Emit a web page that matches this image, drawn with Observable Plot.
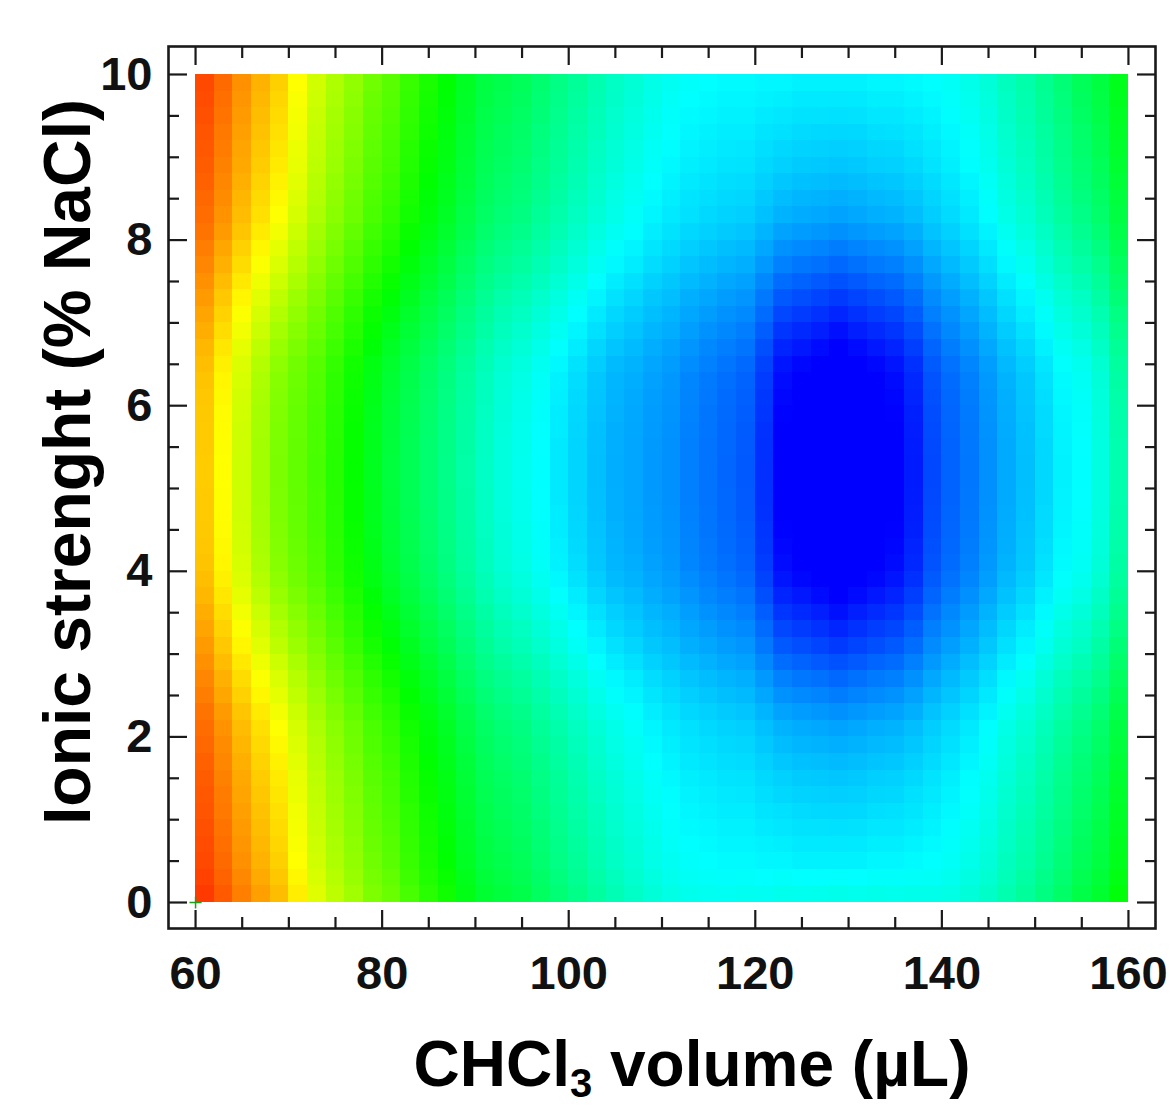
<!DOCTYPE html>
<html><head><meta charset="utf-8">
<script src="https://cdn.jsdelivr.net/npm/d3@7"></script>
<script src="https://cdn.jsdelivr.net/npm/@observablehq/plot@0.6"></script>
<style>html,body{margin:0;padding:0;background:#fff;} svg{display:block}</style>
</head><body>
<div id="chart"></div>
<script>
// Cell centres of the 50 x 50 response grid
const volume = [61,63,65,67,69,71,73,75,77,79,81,83,85,87,89,91,93,95,97,99,101,103,105,107,109,111,113,115,117,119,121,123,125,127,129,131,133,135,137,139,141,143,145,147,149,151,153,155,157,159];
const ionic = [0.1,0.3,0.5,0.7,0.9,1.1,1.3,1.5,1.7,1.9,2.1,2.3,2.5,2.7,2.9,3.1,3.3,3.5,3.7,3.9,4.1,4.3,4.5,4.7,4.9,5.1,5.3,5.5,5.7,5.9,6.1,6.3,6.5,6.7,6.9,7.1,7.3,7.5,7.7,7.9,8.1,8.3,8.5,8.7,8.9,9.1,9.3,9.5,9.7,9.9];
// Colour level (hue, 0 = red ... 240 = blue) read along the middle row (≈5.2 % NaCl), per volume column
const midRowLevel = [48,60,72,82,91,97,103,111,119,127,134,140,146,152,159,166,172,176,180,185,190,195,199,201,204,206,210,213,216,219,229,241,244.5,248,252,248,244.5,241.2,234,223,217,212,206,200,195,189,183,180,173,161];
// Colour level read along the top row (9.9 % NaCl), per volume column
const topRowLevel = [17,25,34,42,49,60,71,79,86,94,99,107,114,120,128,135,138,141,146,151,156,161,166,170,174,177,179,180,181,181,182,182,183,183,183,183,182,182,181,180,178,175,171,165,160,154,148,141,135,126];
// Share of the middle-to-top change reached in each ionic-strength row (bottom to top)
const rowWeight = [1.11,1.05,1.00,0.97,0.94,0.91,0.88,0.85,0.81,0.77,0.73,0.67,0.60,0.53,0.45,0.37,0.30,0.23,0.16,0.10,0.06,0.04,0.025,0.013,0.005,0,0,0.005,0.013,0.025,0.04,0.06,0.10,0.16,0.23,0.30,0.37,0.45,0.53,0.60,0.67,0.73,0.77,0.81,0.85,0.88,0.91,0.94,0.97,1.00];

const xMajorTicks = [60,80,100,120,140,160];
const xMinorTicks = [65,70,75,85,90,95,105,110,115,125,130,135,145,150,155];
const yMajorTicks = [0,2,4,6,8,10];
const yMinorTicks = [0.5,1,1.5,2.5,3,3.5,4.5,5,5.5,6.5,7,7.5,8.5,9,9.5];
const designPoint = [{volume: 60, ionic: 0}];

const halfW = (volume[1] - volume[0]) / 2;
const halfH = (ionic[1] - ionic[0]) / 2;
const cells = [];
ionic.forEach((y, j) => volume.forEach((x, i) => {
  cells.push({
    x1: x - halfW, x2: x + halfW, y1: y - halfH, y2: y + halfH,
    level: midRowLevel[i] - (midRowLevel[i] - topRowLevel[i]) * rowWeight[j]
  });
}));

const font = "'Liberation Sans', Arial, Helvetica, sans-serif";
const tickStroke = "#1a1a1a";
const noText = () => "";

const svg = Plot.plot({
  width: 1170, height: 1107,
  marginLeft: 168, marginRight: 15, marginTop: 46, marginBottom: 179,
  style: {fontFamily: font, color: "#111", background: "#fff"},
  x: {domain: [57.1, 162.9]},
  y: {domain: [-0.314, 10.338]},
  color: {type: "linear", domain: [0, 240], clamp: true, interpolate: t => d3.hsl(240 * t, 1, 0.5).formatHex()},
  marks: [
    Plot.rect(cells, {x1: "x1", x2: "x2", y1: "y1", y2: "y2", fill: "level", shapeRendering: "crispEdges"}),
    Plot.dot(designPoint, {x: "volume", y: "ionic", symbol: "plus", stroke: "#1f9e1f", r: 4, strokeWidth: 1.5}),
    // inward ticks on all four sides
    Plot.axisX({ticks: xMajorTicks, anchor: "bottom", tickSize: -18, tickFormat: noText, label: null, stroke: tickStroke, strokeWidth: 2.2}),
    Plot.axisX({ticks: xMinorTicks, anchor: "bottom", tickSize: -11, tickFormat: noText, label: null, stroke: tickStroke, strokeWidth: 2.2}),
    Plot.axisX({ticks: xMajorTicks, anchor: "top", tickSize: -18, tickFormat: noText, label: null, stroke: tickStroke, strokeWidth: 2.2}),
    Plot.axisX({ticks: xMinorTicks, anchor: "top", tickSize: -11, tickFormat: noText, label: null, stroke: tickStroke, strokeWidth: 2.2}),
    Plot.axisY({ticks: yMajorTicks, anchor: "left", tickSize: -19, tickFormat: noText, label: null, stroke: tickStroke, strokeWidth: 2.2}),
    Plot.axisY({ticks: yMinorTicks, anchor: "left", tickSize: -11, tickFormat: noText, label: null, stroke: tickStroke, strokeWidth: 2.2}),
    Plot.axisY({ticks: yMajorTicks, anchor: "right", tickSize: -19, tickFormat: noText, label: null, stroke: tickStroke, strokeWidth: 2.2}),
    Plot.axisY({ticks: yMinorTicks, anchor: "right", tickSize: -11, tickFormat: noText, label: null, stroke: tickStroke, strokeWidth: 2.2}),
    // tick labels
    Plot.axisX({ticks: xMajorTicks, anchor: "bottom", tickSize: 0, tickPadding: 27, label: null, fontSize: 47, fontWeight: "bold", fill: "#111"}),
    Plot.axisY({ticks: yMajorTicks, anchor: "left", tickSize: 0, tickPadding: 16, label: null, fontSize: 47, fontWeight: "bold", fill: "#111"}),
    Plot.frame({stroke: "#1a1a1a", strokeWidth: 2.6})
  ]
});
document.getElementById("chart").appendChild(svg);

// axis titles
const s = d3.select(svg);
s.append("text")
  .attr("transform", "translate(90,462) rotate(-90)")
  .attr("text-anchor", "middle")
  .attr("font-family", font).attr("font-weight", "bold").attr("font-size", 66).attr("fill", "#000")
  .text("Ionic strenght (% NaCl)");
const xt = s.append("text")
  .attr("x", 692).attr("y", 1086)
  .attr("text-anchor", "middle")
  .attr("font-family", font).attr("font-weight", "bold").attr("font-size", 64).attr("fill", "#000");
xt.append("tspan").text("CHCl");
xt.append("tspan").attr("font-size", 40).attr("dy", 11).text("3");
xt.append("tspan").attr("dy", -11).text(" volume (µL)");
</script>
</body></html>
